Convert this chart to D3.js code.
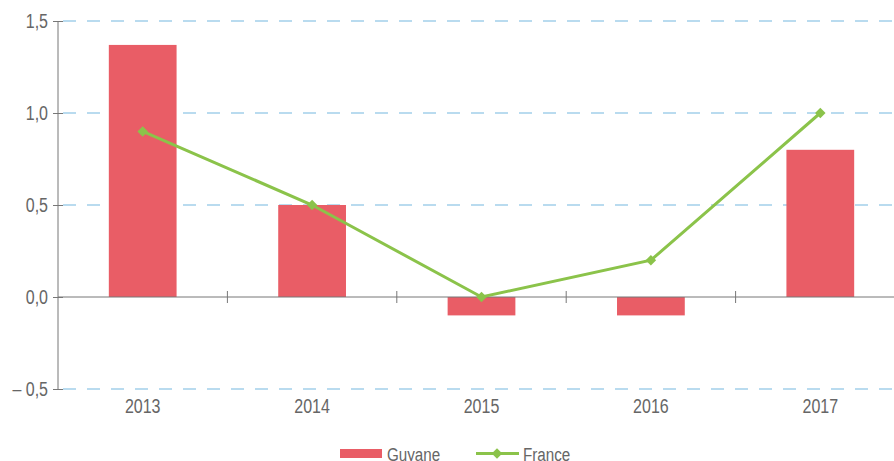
<!DOCTYPE html>
<html>
<head>
<meta charset="utf-8">
<script src="https://cdn.jsdelivr.net/npm/d3@7"></script>
<style>
    body { margin: 0; background: #fff; }
    svg text { font-family: "Liberation Sans", Arial, sans-serif; fill: #666; }
</style>
</head>
<body>
<svg id="chart"></svg>
<script>
// data
const years = ['2013', '2014', '2015', '2016', '2017'];
const guyane = [1.37, 0.5, -0.1, -0.1, 0.8];
const france = [0.9, 0.5, 0.0, 0.2, 1.0];
const yTicks = [-0.5, 0, 0.5, 1, 1.5];
const legendLabels = ['Guyane', 'France'];

const width = 894, height = 461;
const barColor = '#e95d66', lineColor = '#8bc34a', gridColor = '#a3d0ea', axisColor = '#777';
const squeeze = 0.8; // the original font is a condensed one

const svg = d3.select('#chart')
    .attr('width', width)
    .attr('height', height);

const xScale = d3.scaleBand()
    .domain(years)
    .range([58, 905]);

const yScale = d3.scaleLinear()
    .domain([-0.5, 1.5])
    .range([389, 21]);

const fmt = d => {
    let s = d3.format('.1f')(Math.abs(d)).replace('.', ',');
    return d < 0 ? '– ' + s : s;
};

// condensed text helper
function label(g, x, y, txt, size, anchor) {
    return g.append('text')
        .attr('transform', `translate(${x},${y}) scale(${squeeze},1)`)
        .attr('text-anchor', anchor || 'start')
        .style('font-size', size + 'px')
        .text(txt);
}

// dashed grid lines
svg.append('g')
    .selectAll('line')
    .data(yTicks.filter(d => d !== 0))
  .join('line')
    .attr('x1', 63)
    .attr('x2', width)
    .attr('y1', d => yScale(d))
    .attr('y2', d => yScale(d))
    .attr('stroke', gridColor)
    .attr('stroke-width', 1.3)
    .attr('stroke-dasharray', '13,11');

// bars
svg.append('g')
    .selectAll('rect')
    .data(years)
  .join('rect')
    .attr('x', d => xScale(d) + xScale.bandwidth() * 0.3)
    .attr('width', xScale.bandwidth() * 0.4)
    .attr('y', (d, i) => yScale(Math.max(0, guyane[i])))
    .attr('height', (d, i) => Math.abs(yScale(guyane[i]) - yScale(0)))
    .attr('fill', barColor);

// y axis
const yAxisG = svg.append('g')
    .attr('transform', 'translate(58,0)')
    .call(d3.axisLeft(yScale)
        .tickValues(yTicks)
        .tickFormat(fmt)
        .tickSize(5)
        .tickPadding(5));
yAxisG.select('.domain').attr('stroke', axisColor).attr('d', `M0,${yScale(1.5)}V${yScale(-0.5)}`);
yAxisG.selectAll('.tick line').attr('x1', -5).attr('x2', 5).attr('stroke', axisColor);
yAxisG.selectAll('.tick text')
    .attr('x', -10 / squeeze)
    .attr('transform', `scale(${squeeze},1)`)
    .attr('fill', null)
    .attr('font-family', null)
    .style('font-size', '20px');

// x axis (zero line)
const y0 = yScale(0);
svg.append('line')
    .attr('x1', 58)
    .attr('x2', width)
    .attr('y1', y0)
    .attr('y2', y0)
    .attr('stroke', axisColor);

svg.append('g')
    .selectAll('line')
    .data(years.slice(1))
  .join('line')
    .attr('x1', d => xScale(d))
    .attr('x2', d => xScale(d))
    .attr('y1', y0 - 6)
    .attr('y2', y0 + 6)
    .attr('stroke', axisColor);

const xLabels = svg.append('g');
years.forEach(d => label(xLabels, xScale(d) + xScale.bandwidth() / 2, 412.5, d, 20, 'middle'));

// France line
const line = d3.line()
    .x((d, i) => xScale(years[i]) + xScale.bandwidth() / 2)
    .y(d => yScale(d));

svg.append('path')
    .datum(france)
    .attr('d', line)
    .attr('fill', 'none')
    .attr('stroke', lineColor)
    .attr('stroke-width', 3);

const diamond = d3.symbol().type(d3.symbolDiamond2).size(70);
svg.append('g')
    .selectAll('path')
    .data(france)
  .join('path')
    .attr('transform', (d, i) => `translate(${xScale(years[i]) + xScale.bandwidth() / 2},${yScale(d)})`)
    .attr('d', diamond)
    .attr('fill', lineColor);

// legend
const legend = svg.append('g');
legend.append('rect')
    .attr('x', 340).attr('y', 449)
    .attr('width', 42).attr('height', 9)
    .attr('fill', barColor);
label(legend, 387, 461, legendLabels[0], 19);
legend.append('line')
    .attr('x1', 476).attr('x2', 519)
    .attr('y1', 453.5).attr('y2', 453.5)
    .attr('stroke', lineColor)
    .attr('stroke-width', 3);
legend.append('path')
    .attr('transform', 'translate(497,453.5)')
    .attr('d', diamond)
    .attr('fill', lineColor);
label(legend, 523, 461, legendLabels[1], 19);
</script>
</body>
</html>
